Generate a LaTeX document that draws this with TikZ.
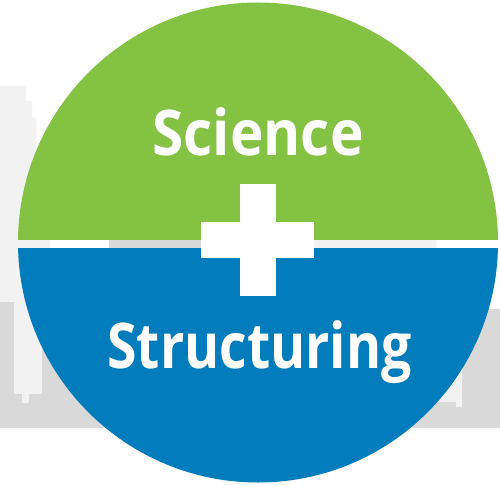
\documentclass[tikz,border=0pt]{standalone}
\usepackage{fontspec}
\setmainfont{Open Sans}
\definecolor{sgreen}{HTML}{84C244}
\definecolor{sblue}{HTML}{027CBA}
\definecolor{lgray}{HTML}{F2F2F2}
\definecolor{dgray}{HTML}{D9D9D9}
\begin{document}
\begin{tikzpicture}[x=1pt,y=-1pt,
  label/.style={text=white,font=\fontsize{63}{63}\selectfont\bfseries,inner sep=0pt,anchor=base}]
\useasboundingbox (0,0) rectangle (500,484);
% background skyline
\fill[lgray] (0,86) -- (26,86) -- (26,101) -- (32,101) -- (32,118) -- (36,118) -- (36,200) -- (50,200) -- (50,310) -- (0,310) -- cycle;
\fill[dgray] (109,150) -- (332,150) -- (332,250) -- (109,250) -- cycle;
\fill[lgray] (332,150) -- (436,150) -- (436,300) -- (462,300) -- (462,407) -- (300,407) -- (300,150) -- cycle;
\fill[dgray] (0,302) -- (200,302) -- (200,330) -- (480,330) -- (480,309) -- (500,309) -- (500,428) -- (0,428) -- cycle;
\fill[dgray] (300,330) rectangle (440,428);
\fill[lgray] (440,330) -- (462,330) -- (462,407) -- (456,407) -- (456,402) -- (438,402) -- (438,330) -- cycle;
\fill[lgray] (14,302) rectangle (42,394);
\fill[lgray] (22,394) rectangle (29,403);
% circle halves
\begin{scope}
  \clip (0,0) rectangle (500,239);
  \fill[sgreen] (258,242.5) circle[radius=240];
\end{scope}
\begin{scope}
  \clip (0,248) rectangle (500,484);
  \fill[sblue] (258,242.5) circle[radius=240];
\end{scope}
% plus
\fill[white] (240,184) rectangle (276,296);
\fill[white] (201,222) rectangle (314,258);
% texts
\node[label,xscale=0.9] (sci) at (258,155) {Science};
\node[label,xscale=0.85] (str) at (259.5,368) {Structuring};
\end{tikzpicture}
\end{document}
